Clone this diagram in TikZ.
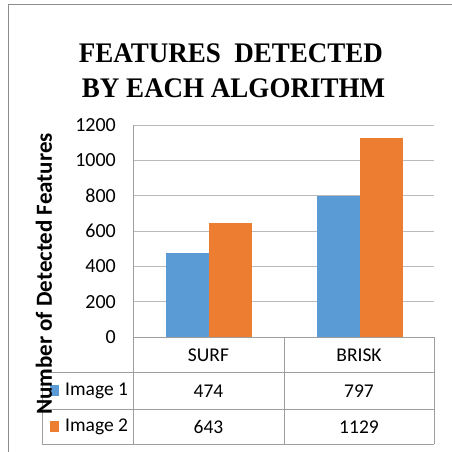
\documentclass[tikz,border=0pt]{standalone}
\usepackage{fontspec}
\setmainfont{Carlito}
\newfontfamily\titlefont{Liberation Serif}
\definecolor{barblue}{HTML}{5B9BD5}
\definecolor{barorange}{HTML}{ED7D31}
\begin{document}
\begin{tikzpicture}[x=1pt,y=-1pt]
\useasboundingbox (0,0) rectangle (452,452);
\tikzstyle{gridline}=[draw=black!27, line width=1pt]
\tikzstyle{tabline}=[draw=black!38, line width=1pt]
\tikzstyle{lbl}=[inner sep=0pt, font=\fontsize{19.5}{20}\selectfont]
\tikzstyle{ttl}=[inner sep=0pt, anchor=base, yscale=1.05, font=\titlefont\bfseries\fontsize{27}{28}\selectfont]
% outer frame, left and top only
\draw[draw=black!45, line width=1pt] (8,452) -- (8,5) -- (452,5);
% title
\node[ttl] (title1) at (231,63) {FEATURES\ \ DETECTED};
\node[ttl] (title2) at (233.5,97) {BY EACH ALGORITHM};
% grid and tick labels
\foreach \v in {0,200,...,1200}{
	\draw[gridline] (133,337-\v*0.17667) -- (434,337-\v*0.17667);
	\node[lbl, anchor=east, font=\fontsize{20}{20}\selectfont] (tick\v) at (116,337-\v*0.17667) {\v};}
% bars
\fill[barblue] (166,337) rectangle (209,337-474*0.17667);
\fill[barorange] (209,337) rectangle (252,337-643*0.17667);
\fill[barblue] (316.5,337) rectangle (359.5,337-797*0.17667);
\fill[barorange] (359.5,337) rectangle (402.5,337-1129*0.17667);
% data table
\draw[tabline] (133,125) -- (133,444);
\draw[tabline] (284,337) -- (284,444);
\draw[tabline] (434,337) -- (434,444);
\draw[tabline] (42,372) -- (42,444);
\foreach \y in {372,409,444}{
	\draw[tabline] (42,\y) -- (434,\y);}
\draw[tabline] (133,337) -- (434,337);
\node[lbl] (surf) at (208.5,355) {SURF};
\node[lbl] (brisk) at (359,355) {BRISK};
\node[lbl] (s1) at (208.5,391) {474};
\node[lbl] (b1) at (359,391) {797};
\node[lbl] (s2) at (208.5,427) {643};
\node[lbl] (b2) at (359,427) {1129};
\fill[barblue] (50,385) rectangle (59,396);
\fill[barorange] (50,421) rectangle (59,432);
\node[lbl, anchor=west] (img1) at (65,391) {Image 1};
\node[lbl, anchor=west] (img2) at (65,427) {Image 2};
% axis title
\node[inner sep=0pt, rotate=90, font=\bfseries\fontsize{23}{23}\selectfont] (ytitle) at (44,274) {Number of Detected Features};
\end{tikzpicture}
\end{document}
